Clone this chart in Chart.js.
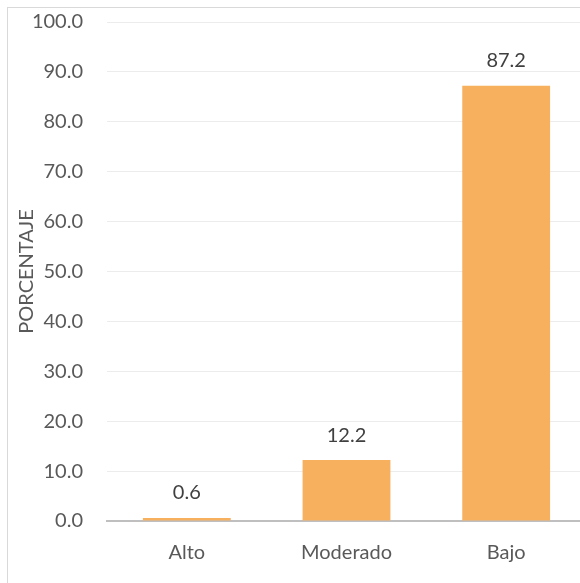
<!DOCTYPE html>
<html lang="es">
<head>
    <meta charset="UTF-8">
    <title>Porcentaje</title>
    <script src="https://cdn.jsdelivr.net/npm/chart.js"></script>
    <style>
        html, body { margin: 0; padding: 0; overflow: hidden; background: #fff; }
        .frame {
            position: absolute;
            left: 7px;
            top: 7px;
            border-left: 1px solid #d9d9d9;
            border-top: 1px solid #d9d9d9;
        }
    </style>
</head>
<body>
    <div class="frame">
        <canvas id="chart" width="590" height="576"></canvas>
    </div>

    <script>
        // data
        const categories = ['Alto', 'Moderado', 'Bajo'];
        const values = [0.6, 12.2, 87.2];
        const yMin = 0;
        const yMax = 100;
        const yStep = 10;

        const fontFamily = 'Lato, "Open Sans", sans-serif';

        // value labels above the bars
        const barLabels = {
            id: 'barLabels',
            afterDatasetsDraw(chart) {
                const ctx = chart.ctx;
                const meta = chart.getDatasetMeta(0);
                ctx.save();
                ctx.font = '20px ' + fontFamily;
                ctx.fillStyle = '#404040';
                ctx.textAlign = 'center';
                ctx.textBaseline = 'middle';
                meta.data.forEach((bar, i) => {
                    ctx.fillText(values[i].toFixed(1), bar.x, bar.y - 25);
                });
                ctx.restore();
            }
        };

        new Chart(document.getElementById('chart'), {
            type: 'bar',
            data: {
                labels: categories,
                datasets: [{
                    data: values,
                    backgroundColor: '#F6B05E',
                    borderWidth: 0,
                    categoryPercentage: 1,
                    barPercentage: 0.55
                }]
            },
            options: {
                responsive: false,
                animation: false,
                devicePixelRatio: 1,
                layout: { padding: { top: 14, right: 12, left: 0, bottom: 0 } },
                plugins: {
                    legend: { display: false },
                    tooltip: { enabled: false }
                },
                scales: {
                    x: {
                        grid: { display: false, drawTicks: false },
                        border: { display: true, color: '#bfbfbf', width: 2 },
                        ticks: {
                            color: '#595959',
                            font: { family: fontFamily, size: 20 },
                            padding: 20
                        },
                        afterFit(scale) { scale.height = 63; }
                    },
                    y: {
                        min: yMin,
                        max: yMax,
                        grid: {
                            color: '#ececec',
                            lineWidth: 1,
                            drawTicks: true,
                            tickLength: 22,
                            tickColor: 'rgba(0,0,0,0)'
                        },
                        border: { display: false },
                        ticks: {
                            stepSize: yStep,
                            color: '#595959',
                            font: { family: fontFamily, size: 20 },
                            padding: 2,
                            callback: v => v.toFixed(1)
                        },
                        title: {
                            display: true,
                            text: 'PORCENTAJE',
                            color: '#595959',
                            font: { family: fontFamily, size: 20 },
                            padding: { top: 7, bottom: 0 }
                        },
                        afterFit(scale) { scale.width = 99; }
                    }
                }
            },
            plugins: [barLabels]
        });
    </script>
</body>
</html>
